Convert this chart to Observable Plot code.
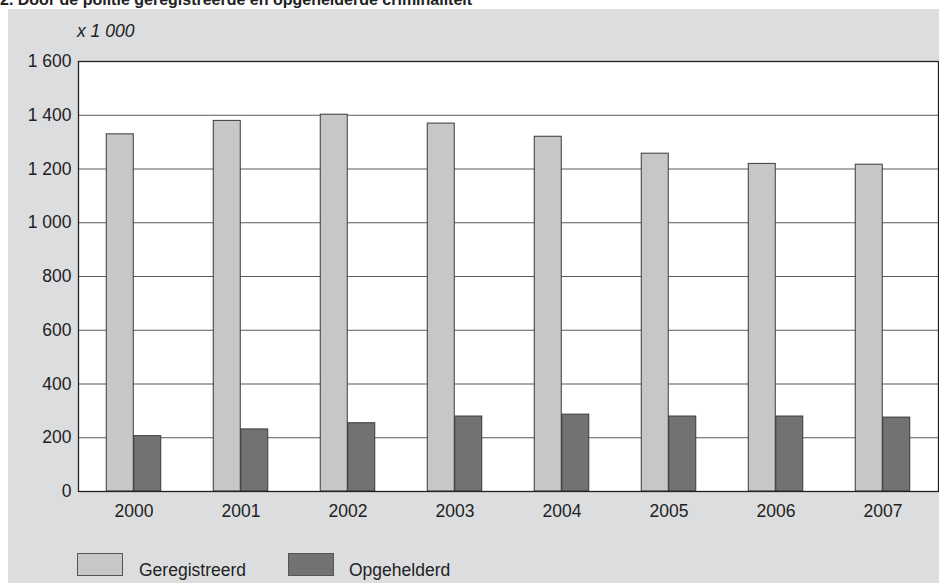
<!DOCTYPE html>
<html>
<head>
<meta charset="utf-8">
<script src="https://cdn.jsdelivr.net/npm/d3@7"></script>
<script src="https://cdn.jsdelivr.net/npm/@observablehq/plot@0.6"></script>
<style>
  html, body { margin: 0; padding: 0; background: #ffffff; overflow: hidden; }
  body { width: 939px; height: 583px; position: relative; font-family: "Liberation Sans", Arial, sans-serif; color: #222; }
  #title { position: absolute; left: 0; top: -8px; font-size: 16px; line-height: 16px; font-weight: bold; white-space: nowrap; color: #222; }
  #panel { position: absolute; left: 8px; top: 9px; width: 931px; height: 574px; background: #dcdddf; }
  #unit { position: absolute; left: 69px; top: 13px; font-size: 17.5px; line-height: 18px; font-style: italic; color: #222; }
  #chart { position: absolute; left: 0; top: 41px; }
  .sw { position: absolute; top: 544px; width: 46px; height: 23px; border: 1px solid #555; box-sizing: border-box; }
  .lt { position: absolute; top: 552px; font-size: 17.5px; line-height: 18px; color: #222; white-space: nowrap; }
</style>
</head>
<body>
<div id="title">2. Door de politie geregistreerde en opgehelderde criminaliteit</div>
<div id="panel">
  <div id="unit">x 1 000</div>
  <div id="chart"></div>
  <div class="sw" style="left:69px; background:#c6c7c9"></div>
  <div class="lt" style="left:131px">Geregistreerd</div>
  <div class="sw" style="left:280px; background:#717274"></div>
  <div class="lt" style="left:341px">Opgehelderd</div>
</div>
<script>
const years = ["2000", "2001", "2002", "2003", "2004", "2005", "2006", "2007"];
const geregistreerd = [1329, 1379, 1402, 1369, 1320, 1257, 1219, 1216];
const opgehelderd = [206, 231, 254, 279, 286, 279, 279, 275];
const yTicks = [0, 200, 400, 600, 800, 1000, 1200, 1400, 1600];

const gData = years.map((y, i) => ({year: y, value: geregistreerd[i]}));
const oData = years.map((y, i) => ({year: y, value: opgehelderd[i]}));
const fmt = d3.formatLocale({thousands: " ", grouping: [3], decimal: ","}).format(",d");

const chart = Plot.plot({
  width: 931,
  height: 476,
  marginLeft: 70,
  marginRight: 1,
  marginTop: 11,
  marginBottom: 35,
  style: {background: "transparent", fontFamily: "'Liberation Sans', Arial, sans-serif", fontSize: "17.5px", color: "#222"},
  x: {domain: years, padding: 0, label: null},
  y: {domain: [0, 1600], label: null},
  marks: [
    Plot.frame({fill: "white", stroke: "none"}),
    Plot.ruleY(yTicks.filter(v => v > 0 && v < 1600), {stroke: "#5a5a5a", strokeWidth: 1.2}),
    Plot.barY(gData, {x: "year", y: "value", fill: "#c6c7c9", stroke: "#3a3a3a", strokeWidth: 1, insetLeft: 26.25, insetRight: 53.75}),
    Plot.barY(oData, {x: "year", y: "value", fill: "#717274", stroke: "#3a3a3a", strokeWidth: 1, insetLeft: 53.75, insetRight: 26.25}),
    Plot.frame({stroke: "#222", strokeWidth: 1.3}),
    Plot.axisY({ticks: yTicks, tickSize: 0, tickPadding: 7, tickFormat: fmt, label: null, fontSize: 17.5}),
    Plot.axisX({tickSize: 0, tickPadding: 13, label: null, fontSize: 17.5})
  ]
});
document.getElementById("chart").appendChild(chart);
</script>
</body>
</html>
